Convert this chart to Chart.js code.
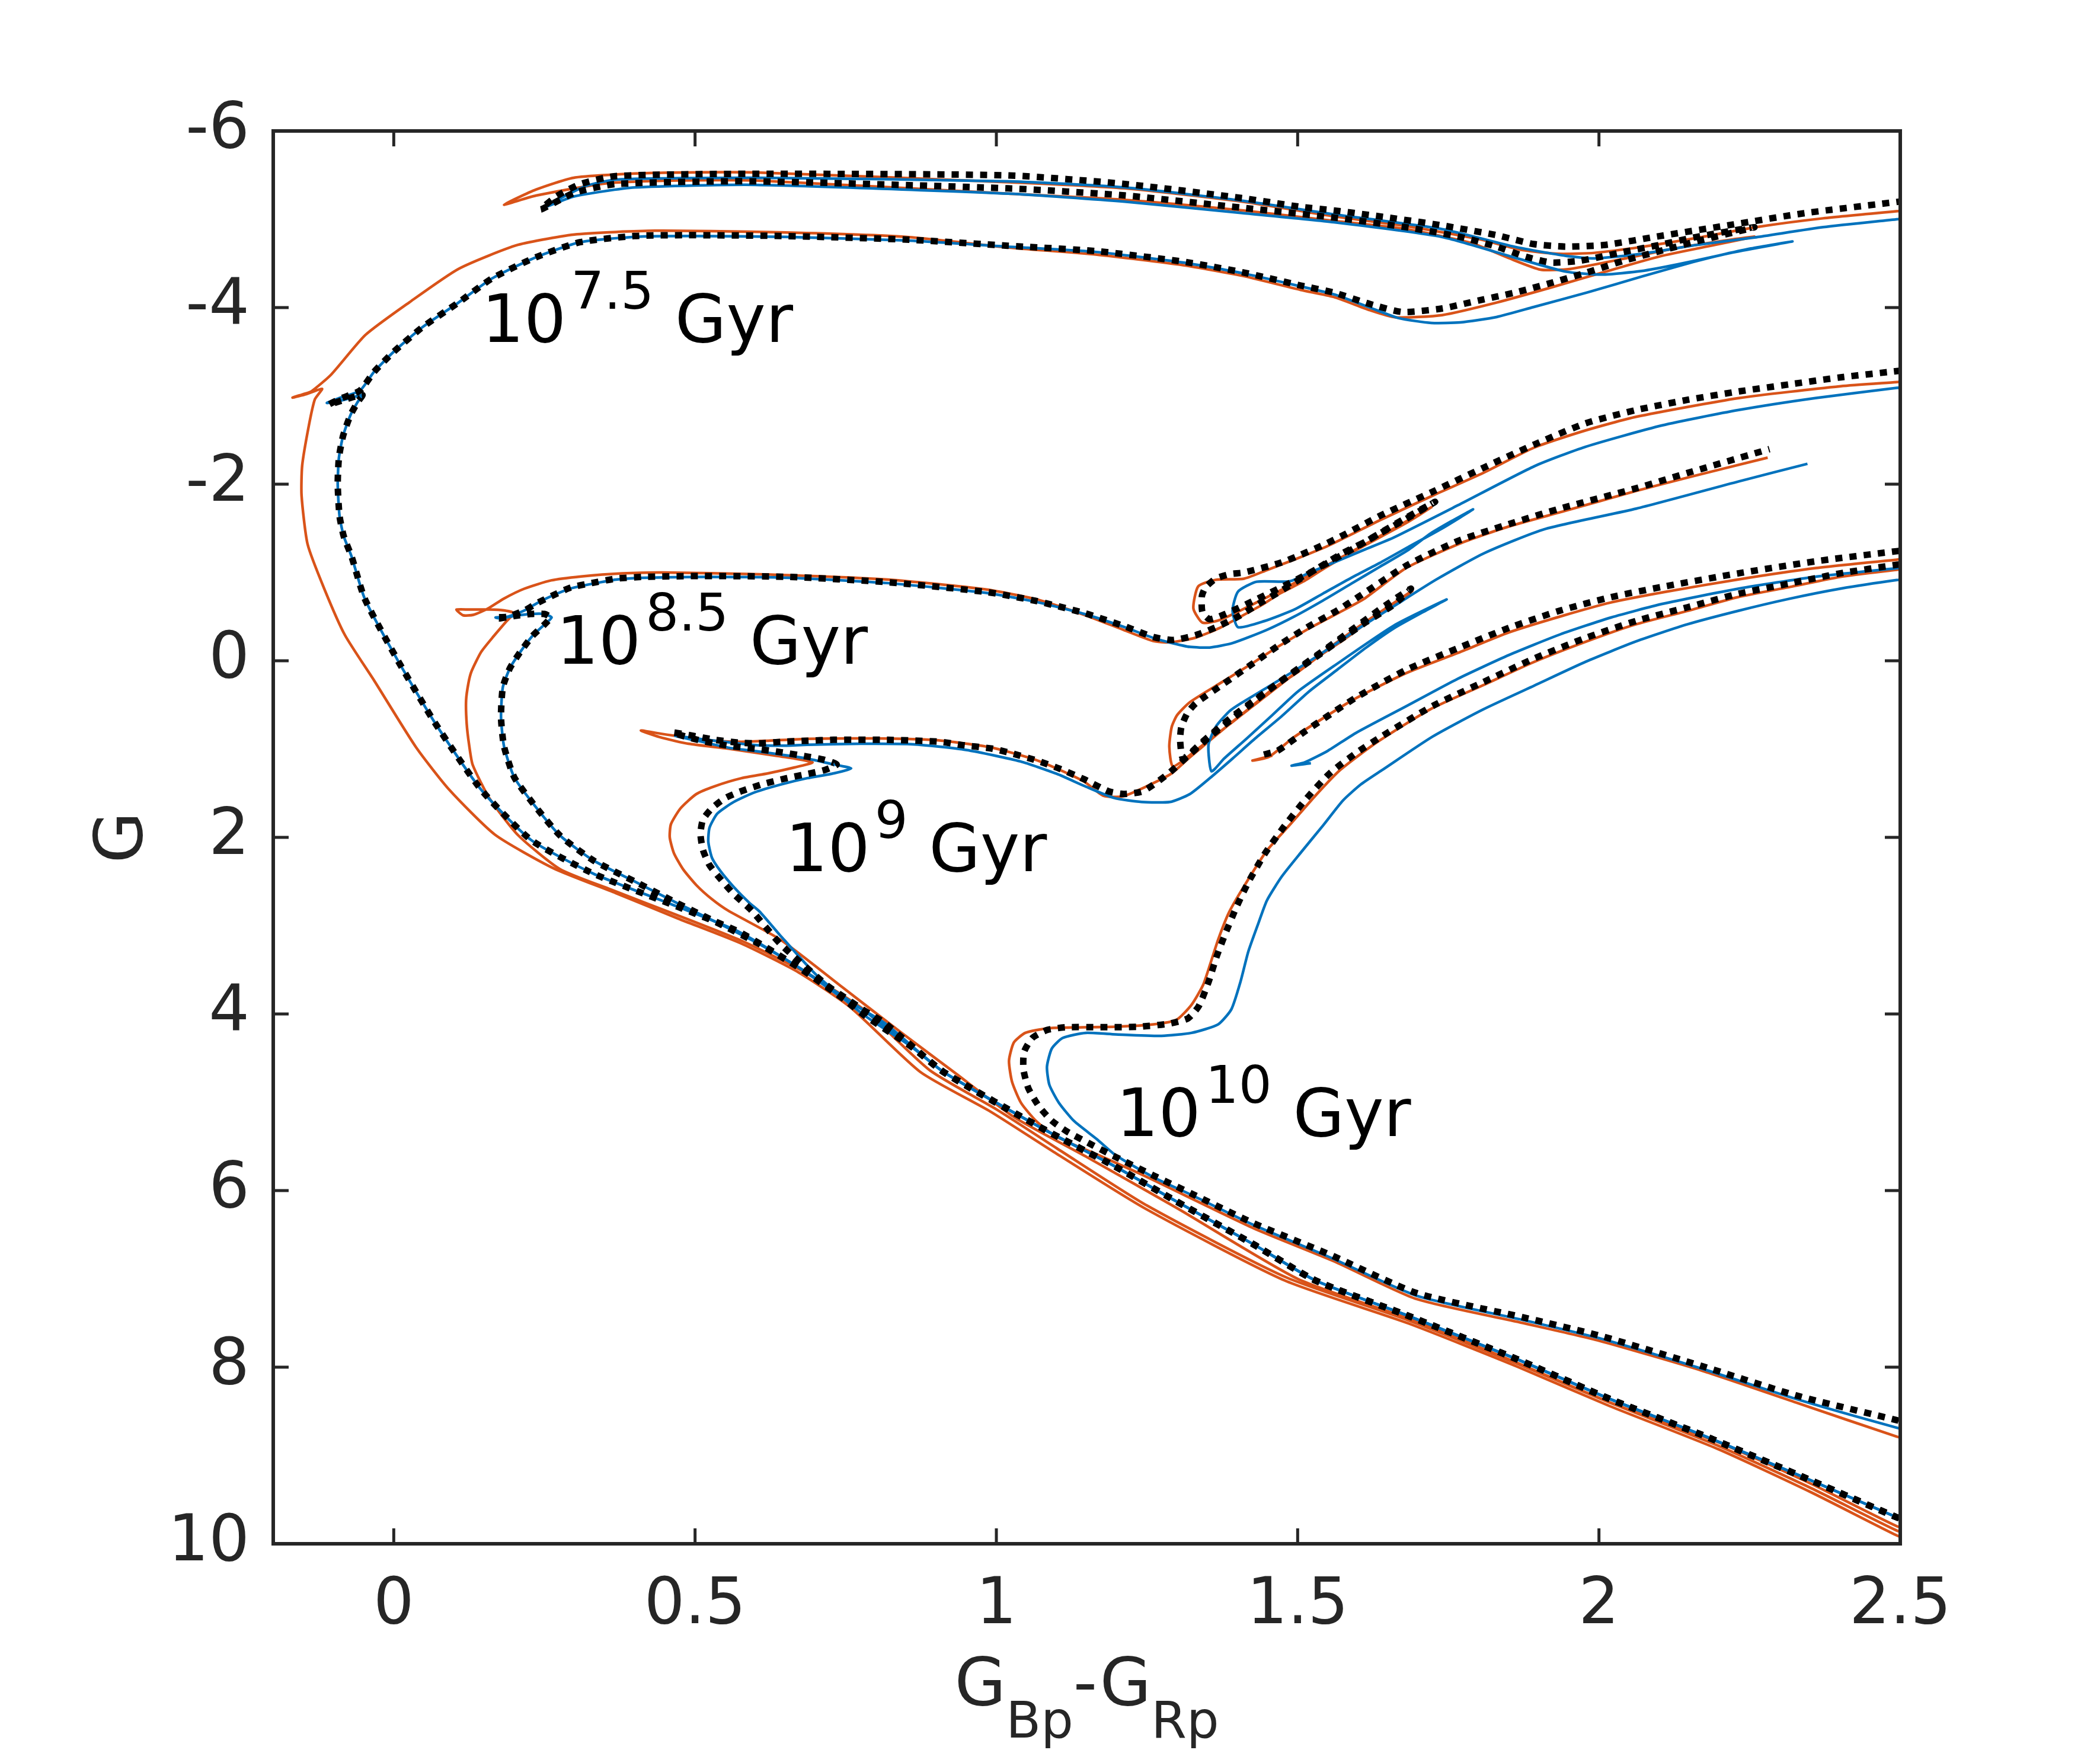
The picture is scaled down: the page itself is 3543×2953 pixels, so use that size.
<!DOCTYPE html>
<html>
<head>
<meta charset="utf-8">
<title>Isochrones G vs GBp-GRp</title>
<script src="https://cdn.jsdelivr.net/npm/chart.js@4.4.1/dist/chart.umd.min.js"></script>
<style>
    html, body { margin: 0; padding: 0; background: #ffffff; }
    canvas { display: block; }
</style>
</head>
<body>
<canvas id="cmdChart" width="3543" height="2953"></canvas>
<script>
// axis ticks
var xTicks = [0, 0.5, 1, 1.5, 2, 2.5];
var yTicks = [-6, -4, -2, 0, 2, 4, 6, 8, 10];

// isochrone ages (exponent of 10)
var ageExps = ['7.5', '8.5', '9', '10'];

// each curve: [GBp-GRp, G]
// 10^7.5 - black dotted
var blk75 = [[2.52,9.77],[2.494,9.70],[2.327,9.21],[2.172,8.77],[2.018,8.36],[1.864,7.91],[1.684,7.42],[1.530,7.02],[1.427,6.61],[1.298,6.12],[1.195,5.72],[1.080,5.31],[0.913,4.66],[0.861,4.38],[0.780,3.96],[0.676,3.49],[0.573,3.07],[0.469,2.78],[0.331,2.41],[0.228,2.03],[0.145,1.46],[0.069,0.71],[0.007,0.0],[-0.048,-0.70],[-0.070,-1.18],[-0.083,-1.41],[-0.090,-1.64],[-0.093,-2.0],[-0.091,-2.3],[-0.084,-2.55],[-0.072,-2.78],[-0.060,-2.93],[-0.052,-3.01],[-0.080,-2.96],[-0.108,-2.90],[-0.088,-2.97],[-0.056,-3.06],[-0.033,-3.27],[0.0,-3.50],[0.048,-3.78],[0.106,-4.05],[0.163,-4.33],[0.236,-4.57],[0.309,-4.74],[0.399,-4.81],[0.489,-4.82],[0.65,-4.81],[0.85,-4.77],[1.019,-4.70],[1.165,-4.64],[1.310,-4.52],[1.408,-4.40],[1.505,-4.25],[1.56,-4.17],[1.62,-4.04],[1.674,-3.95],[1.740,-3.99],[1.800,-4.08],[1.861,-4.17],[1.921,-4.28],[1.981,-4.40],[2.041,-4.53],[2.101,-4.64],[2.162,-4.75],[2.258,-4.91],
    [2.162,-4.80],[2.101,-4.71],[2.041,-4.63],[1.969,-4.53],[1.921,-4.51],[1.879,-4.575],[1.830,-4.69],[1.770,-4.80],[1.680,-4.91],[1.560,-5.02],[1.408,-5.13],[1.213,-5.27],[1.019,-5.35],[0.595,-5.43],[0.37,-5.40],[0.30,-5.30],[0.244,-5.11],
    [0.27,-5.26],[0.31,-5.40],[0.37,-5.49],[0.595,-5.515],[1.019,-5.497],[1.213,-5.40],[1.408,-5.24],[1.505,-5.14],[1.560,-5.10],[1.650,-5.02],[1.740,-4.93],[1.830,-4.82],[1.891,-4.72],[1.945,-4.69],[2.011,-4.71],[2.101,-4.81],[2.222,-4.94],[2.342,-5.07],[2.499,-5.20],[2.52,-5.22]];
// 10^7.5 - blue
var blu75 = [[2.52,9.77],[2.494,9.70],[2.327,9.21],[2.172,8.77],[2.018,8.36],[1.864,7.91],[1.684,7.42],[1.530,7.02],[1.427,6.61],[1.298,6.12],[1.195,5.72],[1.080,5.31],[0.913,4.66],[0.861,4.38],[0.780,3.96],[0.676,3.49],[0.573,3.07],[0.469,2.78],[0.331,2.41],[0.228,2.03],[0.145,1.46],[0.069,0.71],[0.007,0.0],[-0.048,-0.70],[-0.070,-1.18],[-0.083,-1.41],[-0.090,-1.64],[-0.093,-2.0],[-0.091,-2.3],[-0.084,-2.55],[-0.072,-2.78],[-0.060,-2.93],[-0.052,-3.01],[-0.080,-2.96],[-0.111,-2.92],[-0.088,-2.98],[-0.056,-3.06],[-0.033,-3.27],[0.0,-3.50],[0.048,-3.78],[0.106,-4.05],[0.163,-4.33],[0.236,-4.57],[0.309,-4.74],[0.399,-4.80],[0.489,-4.81],[0.65,-4.80],[0.85,-4.76],[1.019,-4.69],[1.165,-4.63],[1.310,-4.51],[1.408,-4.39],[1.505,-4.24],[1.56,-4.15],[1.62,-4.00],[1.668,-3.88],[1.722,-3.826],[1.770,-3.832],[1.830,-3.893],[1.891,-4.005],[1.981,-4.172],[2.071,-4.351],[2.162,-4.526],[2.222,-4.624],[2.321,-4.749],
    [2.252,-4.669],[2.192,-4.580],[2.131,-4.490],[2.071,-4.414],[2.005,-4.374],[1.945,-4.407],[1.861,-4.564],[1.740,-4.799],[1.560,-4.966],[1.408,-5.07],[1.213,-5.20],[1.02,-5.29],[0.6,-5.39],[0.40,-5.36],[0.30,-5.26],[0.248,-5.13],
    [0.28,-5.25],[0.32,-5.38],[0.37,-5.45],[0.6,-5.47],[1.02,-5.43],[1.213,-5.36],[1.408,-5.21],[1.560,-5.056],[1.740,-4.888],[1.861,-4.687],[1.945,-4.586],[1.993,-4.557],[2.071,-4.609],[2.162,-4.709],[2.258,-4.794],[2.372,-4.911],[2.499,-5.004],[2.52,-5.02]];
// 10^7.5 - orange
var org75 = [[2.52,9.97],[2.494,9.905],[2.352,9.417],[2.198,8.929],[2.018,8.441],[1.864,7.993],[1.684,7.505],[1.478,7.017],[1.247,6.204],[1.093,5.553],[0.990,5.105],[0.874,4.658],[0.758,3.926],[0.672,3.53],[0.576,3.20],[0.472,2.92],[0.368,2.63],[0.265,2.35],[0.168,1.97],[0.092,1.46],[0.037,0.98],[-0.032,0.23],[-0.081,-0.29],[-0.115,-0.81],[-0.143,-1.32],[-0.153,-1.87],[-0.152,-2.21],[-0.141,-2.66],[-0.131,-2.96],[-0.119,-3.08],[-0.145,-3.02],[-0.168,-2.98],[-0.150,-3.02],[-0.137,-3.05],[-0.104,-3.24],[-0.047,-3.69],[0.026,-4.06],[0.108,-4.44],[0.206,-4.71],[0.304,-4.83],[0.434,-4.87],[0.65,-4.85],[0.85,-4.80],[1.02,-4.68],[1.165,-4.60],[1.31,-4.48],[1.408,-4.36],[1.505,-4.20],[1.560,-4.12],[1.620,-3.97],[1.662,-3.89],[1.740,-3.915],[1.830,-4.056],[1.921,-4.228],[2.011,-4.407],[2.101,-4.580],[2.192,-4.709],[2.258,-4.803],
    [2.222,-4.772],[2.131,-4.676],[2.041,-4.553],[1.951,-4.436],[1.903,-4.430],[1.849,-4.564],[1.788,-4.732],[1.680,-4.888],[1.560,-4.982],[1.408,-5.10],[1.213,-5.22],[1.02,-5.29],[0.6,-5.44],[0.472,-5.439],[0.350,-5.405],[0.236,-5.268],[0.183,-5.165],
    [0.236,-5.336],[0.301,-5.473],[0.432,-5.525],[0.6,-5.53],[1.02,-5.42],[1.213,-5.35],[1.408,-5.20],[1.560,-5.034],[1.680,-4.923],[1.800,-4.776],[1.872,-4.653],[1.933,-4.609],[1.993,-4.620],[2.071,-4.687],[2.162,-4.788],[2.261,-4.911],[2.372,-5.011],[2.499,-5.094],[2.52,-5.105]];

// 10^8.5 - black dotted
var blk85 = [[2.52,9.77],[2.494,9.70],[2.327,9.21],[2.172,8.77],[2.018,8.36],[1.864,7.91],[1.684,7.42],[1.530,7.02],[1.427,6.61],[1.298,6.12],[1.195,5.72],[1.080,5.31],[0.913,4.66],[0.814,4.10],[0.745,3.82],[0.676,3.49],[0.607,3.21],[0.538,2.97],[0.469,2.74],[0.400,2.50],[0.331,2.26],[0.276,1.98],[0.235,1.65],[0.200,1.32],[0.183,0.97],[0.178,0.64],[0.181,0.30],[0.193,0.08],[0.210,-0.10],[0.230,-0.28],[0.250,-0.41],[0.260,-0.49],[0.250,-0.53],[0.227,-0.53],[0.203,-0.51],[0.176,-0.48],[0.169,-0.49],[0.190,-0.50],[0.217,-0.57],[0.237,-0.65],[0.264,-0.74],[0.294,-0.83],[0.328,-0.88],[0.369,-0.93],[0.413,-0.95],[0.514,-0.96],[0.656,-0.95],[0.819,-0.89],[0.982,-0.78],[1.064,-0.68],[1.146,-0.54],[1.213,-0.39],[1.260,-0.27],[1.293,-0.235],[1.331,-0.29],[1.368,-0.39],[1.401,-0.50],[1.439,-0.66],[1.472,-0.79],[1.505,-0.93],[1.542,-1.085],[1.575,-1.22],[1.613,-1.35],[1.636,-1.44],[1.681,-1.61],[1.728,-1.80],[1.680,-1.62],[1.600,-1.30],[1.510,-0.96],[1.430,-0.69],[1.380,-0.53],[1.354,-0.47],[1.342,-0.55],[1.341,-0.73],[1.347,-0.83],[1.364,-0.93],[1.387,-0.98],[1.411,-1.00],[1.472,-1.11],[1.505,-1.20],[1.542,-1.31],[1.575,-1.42],[1.639,-1.65],[1.724,-1.915],[1.808,-2.185],[1.893,-2.45],[1.978,-2.69],[2.062,-2.84],[2.147,-2.955],[2.232,-3.05],[2.316,-3.13],[2.401,-3.21],[2.494,-3.28],[2.52,-3.30]];
// 10^8.5 - blue
var blu85 = [[2.52,9.77],[2.494,9.70],[2.327,9.21],[2.172,8.77],[2.018,8.36],[1.864,7.91],[1.684,7.42],[1.530,7.02],[1.427,6.61],[1.298,6.12],[1.195,5.72],[1.080,5.31],[0.913,4.66],[0.814,4.10],[0.745,3.82],[0.676,3.49],[0.607,3.21],[0.538,2.97],[0.469,2.74],[0.400,2.50],[0.331,2.26],[0.276,1.98],[0.235,1.65],[0.200,1.32],[0.183,0.97],[0.178,0.64],[0.181,0.30],[0.193,0.08],[0.210,-0.10],[0.230,-0.28],[0.250,-0.41],[0.262,-0.49],[0.250,-0.53],[0.227,-0.53],[0.203,-0.51],[0.176,-0.48],[0.169,-0.49],[0.190,-0.50],[0.217,-0.57],[0.237,-0.65],[0.264,-0.74],[0.294,-0.82],[0.328,-0.87],[0.369,-0.92],[0.413,-0.94],[0.514,-0.95],[0.656,-0.94],[0.819,-0.88],[0.982,-0.77],[1.064,-0.67],[1.146,-0.53],[1.213,-0.38],[1.260,-0.26],[1.292,-0.20],[1.321,-0.157],[1.354,-0.150],[1.392,-0.20],[1.448,-0.347],[1.495,-0.503],[1.542,-0.682],[1.589,-0.873],[1.636,-1.063],[1.683,-1.253],[1.721,-1.443],[1.755,-1.58],[1.791,-1.715],[1.740,-1.50],[1.683,-1.286],[1.636,-1.107],[1.589,-0.940],[1.542,-0.761],[1.495,-0.582],[1.444,-0.448],[1.401,-0.380],[1.392,-0.571],[1.401,-0.783],[1.432,-0.895],[1.486,-0.899],[1.519,-0.996],[1.566,-1.130],[1.613,-1.264],[1.660,-1.398],[1.766,-1.761],[1.893,-2.204],[1.978,-2.424],[2.105,-2.666],[2.232,-2.840],[2.359,-2.975],[2.494,-3.090],[2.52,-3.10]];
// 10^8.5 - orange
var org85 = [[2.52,9.90],[2.494,9.85],[2.352,9.37],[2.198,8.89],[2.018,8.40],[1.864,7.96],[1.684,7.47],[1.48,6.98],[1.25,6.17],[1.10,5.52],[1.00,5.08],[0.89,4.64],[0.78,3.95],[0.68,3.52],[0.58,3.18],[0.47,2.88],[0.36,2.59],[0.276,2.36],[0.207,1.98],[0.159,1.56],[0.131,1.18],[0.125,0.95],[0.121,0.71],[0.120,0.45],[0.124,0.25],[0.129,0.12],[0.145,-0.10],[0.166,-0.28],[0.186,-0.44],[0.199,-0.54],[0.183,-0.57],[0.159,-0.58],[0.125,-0.58],[0.104,-0.58],[0.115,-0.515],[0.132,-0.52],[0.156,-0.59],[0.183,-0.705],[0.217,-0.817],[0.261,-0.91],[0.311,-0.955],[0.379,-0.99],[0.447,-1.00],[0.605,-0.98],[0.82,-0.92],[0.98,-0.81],[1.064,-0.70],[1.146,-0.52],[1.211,-0.35],[1.260,-0.224],[1.288,-0.208],[1.33,-0.26],[1.37,-0.37],[1.40,-0.48],[1.44,-0.63],[1.47,-0.76],[1.51,-0.90],[1.545,-1.05],[1.58,-1.19],[1.615,-1.32],[1.68,-1.56],[1.722,-1.74],[1.66,-1.50],[1.58,-1.20],[1.50,-0.90],[1.42,-0.62],[1.37,-0.46],[1.342,-0.432],[1.327,-0.593],[1.335,-0.843],[1.364,-0.917],[1.411,-0.93],[1.45,-1.03],[1.50,-1.16],[1.55,-1.30],[1.639,-1.60],[1.724,-1.87],[1.808,-2.127],[1.893,-2.416],[1.978,-2.609],[2.062,-2.763],[2.232,-2.975],[2.401,-3.109],[2.494,-3.156],[2.52,-3.17]];

// 10^9 - black dotted
var blk9 = [[2.52,9.77],[2.494,9.70],[2.327,9.21],[2.172,8.77],[2.018,8.36],[1.864,7.91],[1.684,7.42],[1.530,7.02],[1.427,6.61],[1.298,6.12],[1.195,5.72],[1.080,5.31],[0.913,4.66],[0.861,4.38],[0.780,4.01],[0.711,3.63],[0.642,3.21],[0.594,2.83],[0.564,2.64],[0.542,2.47],[0.524,2.315],[0.513,2.14],[0.509,1.96],[0.513,1.80],[0.528,1.67],[0.550,1.555],[0.577,1.476],[0.612,1.398],[0.651,1.331],[0.686,1.282],[0.713,1.242],[0.735,1.174],[0.713,1.119],[0.686,1.085],[0.643,1.036],[0.599,0.995],[0.555,0.962],[0.511,0.906],[0.485,0.861],[0.463,0.812],[0.493,0.845],[0.533,0.895],[0.577,0.93],[0.607,0.935],[0.643,0.918],[0.686,0.906],[0.730,0.895],[0.818,0.895],[0.906,0.917],[0.942,0.954],[0.993,0.995],[1.023,1.044],[1.067,1.13],[1.105,1.223],[1.146,1.343],[1.186,1.478],[1.211,1.508],[1.243,1.478],[1.284,1.286],[1.317,1.085],[1.354,0.861],[1.387,0.682],[1.420,0.503],[1.458,0.302],[1.495,0.123],[1.533,-0.056],[1.570,-0.235],[1.613,-0.436],[1.660,-0.638],[1.688,-0.817],[1.640,-0.60],[1.560,-0.20],[1.470,0.24],[1.390,0.64],[1.340,0.93],[1.310,1.107],[1.305,0.906],[1.307,0.749],[1.317,0.593],[1.331,0.481],[1.378,0.257],[1.425,0.033],[1.472,-0.190],[1.519,-0.392],[1.566,-0.571],[1.600,-0.72],[1.681,-1.08],[1.766,-1.357],[1.851,-1.549],[1.935,-1.723],[2.062,-1.954],[2.147,-2.127],[2.283,-2.397]];
// 10^9 - blue
var blu9 = [[2.52,9.77],[2.494,9.70],[2.327,9.21],[2.172,8.77],[2.018,8.36],[1.864,7.91],[1.684,7.42],[1.530,7.02],[1.427,6.61],[1.298,6.12],[1.195,5.72],[1.080,5.31],[0.913,4.66],[0.861,4.38],[0.780,4.01],[0.70,3.55],[0.640,3.10],[0.607,2.84],[0.590,2.74],[0.564,2.56],[0.542,2.38],[0.528,2.23],[0.522,2.05],[0.524,1.89],[0.537,1.73],[0.564,1.60],[0.599,1.49],[0.643,1.40],[0.686,1.33],[0.730,1.275],[0.759,1.219],[0.730,1.174],[0.686,1.107],[0.643,1.063],[0.599,1.022],[0.555,0.984],[0.511,0.917],[0.467,0.850],[0.52,0.895],[0.60,0.955],[0.643,0.962],[0.686,0.951],[0.774,0.940],[0.862,0.946],[0.95,1.01],[1.04,1.14],[1.10,1.28],[1.146,1.418],[1.195,1.553],[1.241,1.599],[1.288,1.599],[1.321,1.510],[1.354,1.331],[1.392,1.107],[1.429,0.883],[1.472,0.637],[1.519,0.347],[1.566,0.100],[1.613,-0.146],[1.660,-0.369],[1.707,-0.548],[1.747,-0.694],[1.66,-0.40],[1.56,0.06],[1.50,0.35],[1.458,0.615],[1.415,0.883],[1.378,1.107],[1.357,1.252],[1.352,0.951],[1.364,0.749],[1.387,0.570],[1.406,0.481],[1.45,0.30],[1.50,0.09],[1.55,-0.13],[1.60,-0.36],[1.66,-0.62],[1.73,-0.92],[1.81,-1.22],[1.910,-1.491],[2.062,-1.723],[2.232,-2.031],[2.346,-2.231]];
// 10^9 - orange
var org9 = [[2.52,9.84],[2.494,9.80],[2.352,9.32],[2.198,8.85],[2.018,8.40],[1.864,7.95],[1.684,7.45],[1.50,7.00],[1.30,6.20],[1.15,5.62],[1.03,5.17],[0.93,4.66],[0.84,4.20],[0.745,3.70],[0.642,3.16],[0.555,2.83],[0.528,2.70],[0.502,2.54],[0.480,2.36],[0.465,2.18],[0.458,2.00],[0.460,1.85],[0.476,1.67],[0.502,1.51],[0.533,1.42],[0.577,1.33],[0.621,1.275],[0.665,1.208],[0.695,1.152],[0.665,1.107],[0.621,1.063],[0.555,0.995],[0.489,0.940],[0.445,0.872],[0.410,0.790],[0.445,0.828],[0.489,0.872],[0.533,0.906],[0.577,0.917],[0.621,0.906],[0.686,0.884],[0.80,0.88],[0.90,0.90],[0.99,0.98],[1.06,1.11],[1.10,1.22],[1.146,1.37],[1.178,1.53],[1.21,1.535],[1.25,1.42],[1.29,1.28],[1.32,1.10],[1.36,0.87],[1.39,0.70],[1.425,0.51],[1.46,0.31],[1.50,0.13],[1.535,-0.05],[1.575,-0.23],[1.615,-0.43],[1.66,-0.63],[1.69,-0.79],[1.60,-0.38],[1.50,0.12],[1.40,0.65],[1.33,1.02],[1.293,1.197],[1.287,0.973],[1.291,0.749],[1.300,0.615],[1.321,0.470],[1.37,0.26],[1.42,0.05],[1.47,-0.17],[1.52,-0.37],[1.57,-0.55],[1.61,-0.70],[1.68,-1.05],[1.77,-1.33],[1.85,-1.52],[1.94,-1.69],[2.06,-1.92],[2.15,-2.08],[2.28,-2.30]];

// 10^10 - black dotted (main sequence to giant branch, then clump branch)
var blk10 = [[2.52,8.65],[2.494,8.60],[2.327,8.32],[2.172,7.99],[2.005,7.65],[1.877,7.44],[1.697,7.16],[1.555,6.73],[1.427,6.37],[1.324,6.035],[1.261,5.83],[1.198,5.62],[1.161,5.49],[1.117,5.33],[1.092,5.21],[1.070,5.04],[1.053,4.84],[1.045,4.63],[1.046,4.43],[1.060,4.27],[1.085,4.18],[1.117,4.15],[1.173,4.15],[1.236,4.145],[1.286,4.11],[1.318,4.05],[1.336,3.91],[1.352,3.64],[1.365,3.36],[1.380,3.09],[1.399,2.78],[1.418,2.51],[1.445,2.19],[1.475,1.90],[1.512,1.58],[1.554,1.27],[1.600,1.03],[1.639,0.858],[1.724,0.512],[1.808,0.242],[1.893,-0.028],[1.978,-0.259],[2.062,-0.452],[2.147,-0.606],[2.232,-0.760],[2.316,-0.875],[2.401,-0.991],[2.494,-1.087],[2.52,-1.11]];
var blk10b = [[1.444,1.062],[1.467,1.018],[1.512,0.80],[1.596,0.42],[1.681,0.10],[1.766,-0.143],[1.851,-0.374],[1.935,-0.567],[2.020,-0.721],[2.105,-0.837],[2.232,-0.991],[2.359,-1.126],[2.494,-1.241],[2.52,-1.26]];
// 10^10 - blue
var blu10 = [[2.52,8.72],[2.494,8.685],[2.327,8.36],[2.172,8.02],[2.005,7.68],[1.877,7.47],[1.697,7.19],[1.555,6.76],[1.427,6.39],[1.324,6.05],[1.261,5.85],[1.198,5.60],[1.167,5.419],[1.129,5.213],[1.104,5.008],[1.088,4.803],[1.084,4.597],[1.092,4.392],[1.110,4.272],[1.148,4.214],[1.198,4.231],[1.274,4.248],[1.324,4.214],[1.368,4.118],[1.390,3.947],[1.405,3.638],[1.418,3.296],[1.434,2.988],[1.449,2.714],[1.474,2.440],[1.506,2.166],[1.543,1.858],[1.575,1.584],[1.605,1.40],[1.639,1.243],[1.724,0.858],[1.808,0.550],[1.893,0.280],[1.978,0.011],[2.062,-0.220],[2.147,-0.413],[2.232,-0.567],[2.316,-0.702],[2.401,-0.817],[2.494,-0.914],[2.52,-0.93]];
var blu10b = [[1.522,1.160],[1.490,1.188],[1.512,1.150],[1.55,1.02],[1.596,0.820],[1.681,0.512],[1.766,0.203],[1.851,-0.066],[1.935,-0.297],[2.020,-0.490],[2.105,-0.644],[2.232,-0.817],[2.359,-0.952],[2.494,-1.048],[2.52,-1.06]];
// 10^10 - orange
var org10 = [[2.52,8.83],[2.494,8.786],[2.327,8.40],[2.172,8.042],[2.00,7.70],[1.877,7.505],[1.697,7.228],[1.56,6.80],[1.427,6.427],[1.247,5.837],[1.17,5.60],[1.098,5.385],[1.066,5.213],[1.041,5.008],[1.026,4.768],[1.021,4.529],[1.029,4.323],[1.048,4.214],[1.085,4.162],[1.136,4.152],[1.198,4.145],[1.261,4.118],[1.299,4.066],[1.324,3.895],[1.343,3.673],[1.355,3.433],[1.368,3.159],[1.386,2.851],[1.412,2.543],[1.449,2.149],[1.487,1.858],[1.531,1.516],[1.57,1.24],[1.63,0.93],[1.72,0.55],[1.81,0.27],[1.89,0.02],[1.98,-0.22],[2.06,-0.41],[2.15,-0.57],[2.23,-0.72],[2.32,-0.84],[2.40,-0.95],[2.494,-1.03],[2.52,-1.05]];
var org10b = [[1.458,1.075],[1.425,1.130],[1.452,1.09],[1.495,0.86],[1.59,0.45],[1.68,0.14],[1.77,-0.10],[1.85,-0.32],[1.94,-0.51],[2.02,-0.66],[2.11,-0.78],[2.23,-0.92],[2.36,-1.05],[2.494,-1.145],[2.52,-1.16]];

var ORANGE = '#D95319';
var BLUE = '#0072BD';
var BLACK = '#000000';
var AXIS = '#262626';
var FONT = "'DejaVu Sans', sans-serif";

function toPoints(arr) {
    return arr.map(function (p) { return { x: p[0], y: p[1] }; });
}

function curve(arr, color, dotted) {
    return {
        data: toPoints(arr),
        showLine: true,
        borderColor: color,
        backgroundColor: color,
        borderWidth: dotted ? 11 : 4.5,
        borderDash: dotted ? [12, 12] : [],
        borderCapStyle: 'butt',
        borderJoinStyle: 'round',
        pointRadius: 0,
        pointHoverRadius: 0,
        fill: false,
        tension: 0.2,
        clip: 0
    };
}

// first dataset is drawn on top: black, then blue, then orange
var datasets = [
    curve(blk75, BLACK, true), curve(blk85, BLACK, true), curve(blk9, BLACK, true),
    curve(blk10, BLACK, true), curve(blk10b, BLACK, true),
    curve(blu75, BLUE, false), curve(blu85, BLUE, false), curve(blu9, BLUE, false),
    curve(blu10, BLUE, false), curve(blu10b, BLUE, false),
    curve(org75, ORANGE, false), curve(org85, ORANGE, false), curve(org9, ORANGE, false),
    curve(org10, ORANGE, false), curve(org10b, ORANGE, false)
];

// draws a run of text pieces (normal / raised / lowered) one after the other
function drawPieces(ctx, x, y, pieces) {
    pieces.forEach(function (p) {
        ctx.font = p.size + 'px ' + FONT;
        x += p.gap || 0;
        ctx.fillText(p.t, x, y + (p.shift || 0));
        x += ctx.measureText(p.t).width;
    });
}

function piecesWidth(ctx, pieces) {
    var w = 0;
    pieces.forEach(function (p) {
        ctx.font = p.size + 'px ' + FONT;
        w += (p.gap || 0) + ctx.measureText(p.t).width;
    });
    return w;
}

var boxPlugin = {
    id: 'matlabBox',
    afterDraw: function (chart) {
        var ctx = chart.ctx;
        var a = chart.chartArea;
        var xs = chart.scales.x;
        var ys = chart.scales.y;
        var tickLen = 26;

        ctx.save();
        // ticks pointing inward on all four sides
        ctx.strokeStyle = AXIS;
        ctx.lineWidth = 5;
        ctx.beginPath();
        xTicks.forEach(function (v) {
            var px = xs.getPixelForValue(v);
            ctx.moveTo(px, a.bottom); ctx.lineTo(px, a.bottom - tickLen);
            ctx.moveTo(px, a.top); ctx.lineTo(px, a.top + tickLen);
        });
        yTicks.forEach(function (v) {
            var py = ys.getPixelForValue(v);
            ctx.moveTo(a.left, py); ctx.lineTo(a.left + tickLen, py);
            ctx.moveTo(a.right, py); ctx.lineTo(a.right - tickLen, py);
        });
        ctx.stroke();
        ctx.lineWidth = 6;
        ctx.strokeRect(a.left, a.top, a.right - a.left, a.bottom - a.top);

        // axis labels
        ctx.fillStyle = AXIS;
        ctx.textBaseline = 'alphabetic';
        ctx.textAlign = 'left';
        var xl = [
            { t: 'G', size: 112 },
            { t: 'Bp', size: 86, shift: 55 },
            { t: '-G', size: 112 },
            { t: 'Rp', size: 86, shift: 55 }
        ];
        var cx = (a.left + a.right) / 2;
        drawPieces(ctx, cx - piecesWidth(ctx, xl) / 2, a.bottom + 272, xl);

        ctx.save();
        ctx.translate(a.left - 251, (a.top + a.bottom) / 2);
        ctx.rotate(-Math.PI / 2);
        ctx.textAlign = 'center';
        ctx.textBaseline = 'middle';
        ctx.font = '112px ' + FONT;
        ctx.fillText('G', 0, 0);
        ctx.restore();

        // age labels, anchored in data coordinates
        var spots = [[0.146, -3.611], [0.270, 0.034], [0.650, 2.383], [1.199, 5.383]];
        ctx.fillStyle = '#000000';
        ctx.textAlign = 'left';
        ctx.textBaseline = 'alphabetic';
        ageExps.forEach(function (e, i) {
            var px = xs.getPixelForValue(spots[i][0]);
            var py = ys.getPixelForValue(spots[i][1]);
            drawPieces(ctx, px, py, [
                { t: '10', size: 112 },
                { t: e, size: 88, shift: -56, gap: 8 },
                { t: ' Gyr', size: 112 }
            ]);
        });
        ctx.restore();
    }
};

var chart = new Chart(document.getElementById('cmdChart'), {
    type: 'scatter',
    data: { datasets: datasets },
    options: {
        responsive: false,
        animation: false,
        devicePixelRatio: 1,
        events: [],
        layout: { padding: { left: 0, right: 337, top: 221, bottom: 0 } },
        plugins: {
            legend: { display: false },
            tooltip: { enabled: false }
        },
        scales: {
            x: {
                type: 'linear',
                min: -0.2,
                max: 2.5,
                grid: { display: false },
                border: { display: false },
                afterBuildTicks: function (scale) {
                    scale.ticks = xTicks.map(function (v) { return { value: v }; });
                },
                afterFit: function (scale) { scale.height = 348; },
                ticks: {
                    color: AXIS,
                    font: { family: FONT, size: 108 },
                    padding: 33,
                    maxRotation: 0,
                    autoSkip: false,
                    callback: function (v) { return String(v); }
                }
            },
            y: {
                type: 'linear',
                reverse: true,
                min: -6,
                max: 10,
                grid: { display: false },
                border: { display: false },
                afterBuildTicks: function (scale) {
                    scale.ticks = yTicks.map(function (v) { return { value: v }; });
                },
                afterFit: function (scale) { scale.width = 461; },
                ticks: {
                    color: AXIS,
                    font: { family: FONT, size: 108 },
                    padding: 32,
                    autoSkip: false,
                    callback: function (v) { return String(v); }
                }
            }
        }
    },
    plugins: [boxPlugin]
});
</script>
</body>
</html>
